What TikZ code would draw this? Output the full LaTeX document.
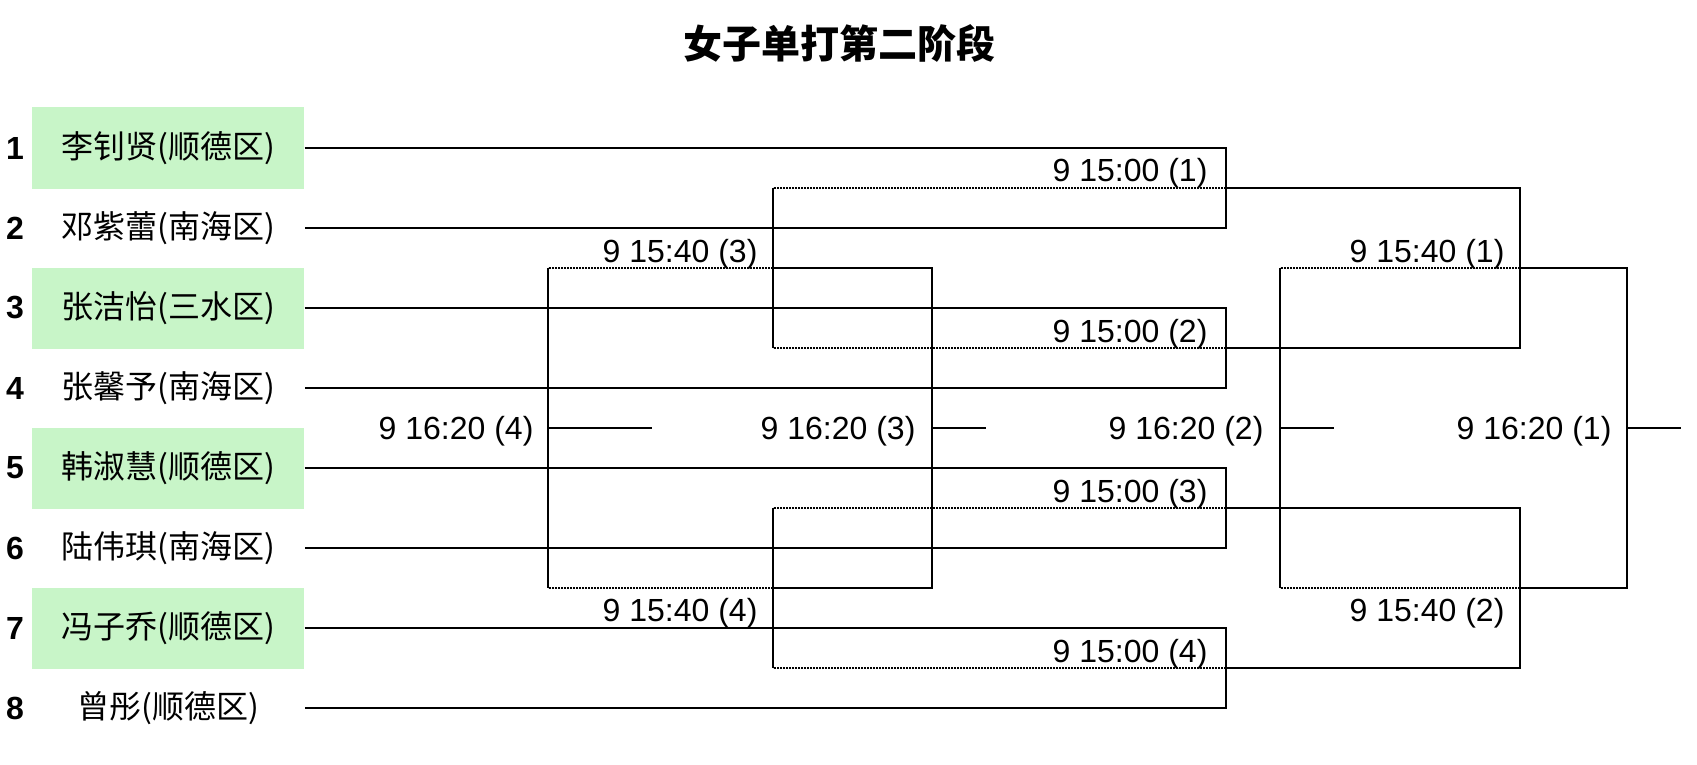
\documentclass[tikz,border=0pt]{standalone}
\usepackage{fontspec}
\setmainfont{Liberation Sans}
\newfontfamily\cjk{Noto Sans CJK SC}
\definecolor{seedgreen}{RGB}{200,245,200}
\tikzset{
  player/.style={minimum width=272pt,minimum height=81pt,inner sep=0pt,font=\cjk\fontsize{32}{32}\selectfont},
  seed/.style={player,fill=seedgreen},
  num/.style={font=\fontsize{32}{32}\selectfont\bfseries,inner sep=0pt},
  time/.style={anchor=base east,inner sep=0pt,font=\fontsize{32}{32}\selectfont},
  loser/.style={dash pattern=on 2pt off 1pt}
}
\begin{document}
\begin{tikzpicture}[x=1pt,y=-1pt,line width=1.1pt]
\useasboundingbox (0,0) rectangle (1697,765);
\node (title) at (839,43) {\cjk\bfseries\fontsize{39}{39}\selectfont 女子单打第二阶段};
% players
\node [seed] (p1) at (168,148) {李钊贤(顺德区)};
\node [player] (p2) at (168,228) {邓紫蕾(南海区)};
\node [seed] (p3) at (168,308) {张洁怡(三水区)};
\node [player] (p4) at (168,388) {张馨予(南海区)};
\node [seed] (p5) at (168,468) {韩淑慧(顺德区)};
\node [player] (p6) at (168,548) {陆伟琪(南海区)};
\node [seed] (p7) at (168,628) {冯子乔(顺德区)};
\node [player] (p8) at (168,708) {曾彤(顺德区)};
\node [num] (n1) at (15,148) {1};
\node [num] (n2) at (15,228) {2};
\node [num] (n3) at (15,308) {3};
\node [num] (n4) at (15,388) {4};
\node [num] (n5) at (15,468) {5};
\node [num] (n6) at (15,548) {6};
\node [num] (n7) at (15,628) {7};
\node [num] (n8) at (15,708) {8};
% match points
\coordinate (m1) at (1226,188);
\coordinate (m2) at (1226,348);
\coordinate (m3) at (1226,508);
\coordinate (m4) at (1226,668);
\coordinate (s1) at (1520,268);
\coordinate (s2) at (1520,588);
\coordinate (f) at (1627,428);
\coordinate (f_end) at (1681,428);
\coordinate (t) at (1280,428);
\coordinate (t_end) at (1334,428);
\coordinate (c1) at (773,268);
\coordinate (c2) at (773,588);
\coordinate (q) at (932,428);
\coordinate (q_end) at (986,428);
\coordinate (r) at (548,428);
\coordinate (r_end) at (652,428);
% first round
\draw (p1.east) -| (m1) |- (p2.east);
\draw (p3.east) -| (m2) |- (p4.east);
\draw (p5.east) -| (m3) |- (p6.east);
\draw (p7.east) -| (m4) |- (p8.east);
% winners
\draw (m1) -| (s1) |- (m2);
\draw (m3) -| (s2) |- (m4);
\draw (s1) -| (f) |- (s2);
\draw (f) -- (f_end);
\draw [loser] (s1) -- (s1 -| t);
\draw [loser] (s2) -- (s2 -| t);
\draw (s1 -| t) -- (s2 -| t);
\draw (t) -- (t_end);
% losers of first round
\draw [loser] (m1) -- (m1 -| c1);
\draw [loser] (m2) -- (m2 -| c1);
\draw (m1 -| c1) -- (m2 -| c1);
\draw [loser] (m3) -- (m3 -| c2);
\draw [loser] (m4) -- (m4 -| c2);
\draw (m3 -| c2) -- (m4 -| c2);
\draw (c1) -| (q) |- (c2);
\draw (q) -- (q_end);
\draw [loser] (c1) -- (c1 -| r);
\draw [loser] (c2) -- (c2 -| r);
\draw (c1 -| r) -- (c2 -| r);
\draw (r) -- (r_end);
% times
\node [time] (tm1) at ([shift={(-18pt,6pt)}]m1) {9 15:00 (1)};
\node [time] (tm2) at ([shift={(-18pt,6pt)}]m2) {9 15:00 (2)};
\node [time] (tm3) at ([shift={(-18pt,6pt)}]m3) {9 15:00 (3)};
\node [time] (tm4) at ([shift={(-18pt,6pt)}]m4) {9 15:00 (4)};
\node [time] (ts1) at ([shift={(-15pt,6pt)}]s1) {9 15:40 (1)};
\node [time] (ts2) at ([shift={(-15pt,-33pt)}]s2) {9 15:40 (2)};
\node [time] (tc1) at ([shift={(-15pt,6pt)}]c1) {9 15:40 (3)};
\node [time] (tc2) at ([shift={(-15pt,-33pt)}]c2) {9 15:40 (4)};
\node [time] (tf) at ([shift={(-15pt,-11pt)}]f) {9 16:20 (1)};
\node [time] (tt) at ([shift={(-16pt,-11pt)}]t) {9 16:20 (2)};
\node [time] (tq) at ([shift={(-16pt,-11pt)}]q) {9 16:20 (3)};
\node [time] (tr) at ([shift={(-14pt,-11pt)}]r) {9 16:20 (4)};
\end{tikzpicture}
\end{document}
